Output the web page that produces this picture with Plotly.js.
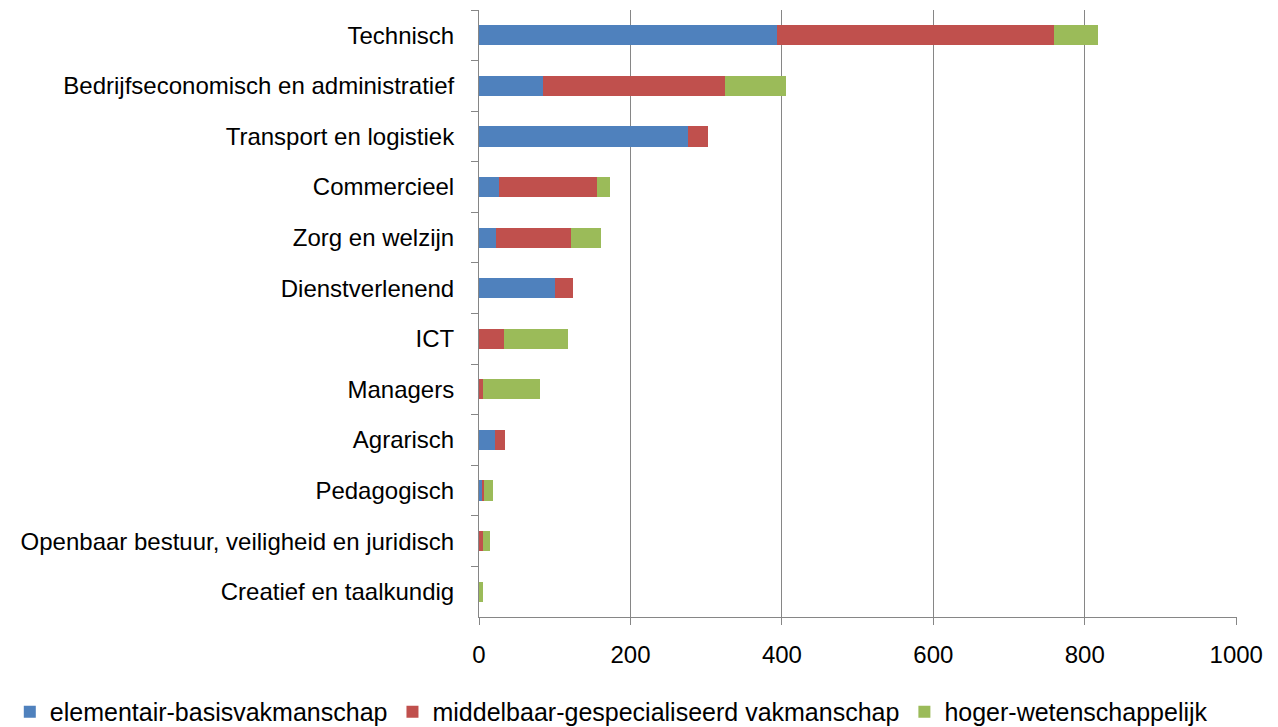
<!DOCTYPE html>
<html>
<head>
<meta charset="utf-8">
<script src="https://cdn.plot.ly/plotly-3.0.1.min.js"></script>
<style>html,body{margin:0;padding:0;background:#fff;}#chart{width:1278px;height:727px;}</style>
</head>
<body>
<div id="chart"></div>
<script>
const categories = [
  "Technisch",
  "Bedrijfseconomisch en administratief",
  "Transport en logistiek",
  "Commercieel",
  "Zorg en welzijn",
  "Dienstverlenend",
  "ICT",
  "Managers",
  "Agrarisch",
  "Pedagogisch",
  "Openbaar bestuur, veiligheid en juridisch",
  "Creatief en taalkundig"
];
const seriesNames = ["elementair-basisvakmanschap", "middelbaar-gespecialiseerd vakmanschap", "hoger-wetenschappelijk"];
const elementair = [393, 84, 276, 26, 23, 101, 0, 0, 21, 4, 0, 0];
const middelbaar = [366, 241, 27, 130, 98, 23, 33, 5, 13, 3, 5, 0];
const hoger = [58, 80, 0, 17, 40, 0, 85, 76, 0, 12, 10, 5];
const xTicks = [0, 200, 400, 600, 800, 1000];
const colors = ["#4F81BD", "#C0504D", "#9BBB59"];

const font = "Liberation Sans, Arial, sans-serif";
const allSeries = [elementair, middelbaar, hoger];
const traces = allSeries.map((vals, i) => ({
  type: "bar",
  orientation: "h",
  name: seriesNames[i],
  y: categories,
  x: vals,
  marker: {color: colors[i], line: {width: 0}},
  hoverinfo: "x+y+name"
}));

const layout = {
  width: 1278,
  height: 727,
  barmode: "stack",
  bargap: 0.6,
  margin: {l: 479, r: 41, t: 10, b: 110, pad: 0, autoexpand: false},
  paper_bgcolor: "#fff",
  plot_bgcolor: "#fff",
  font: {family: font, size: 24, color: "#000"},
  xaxis: {
    range: [0, 1001],
    tickvals: xTicks,
    ticktext: xTicks.map(String),
    showgrid: true,
    gridcolor: "#868686",
    gridwidth: 1,
    zeroline: false,
    showline: true,
    linecolor: "#868686",
    linewidth: 1,
    ticks: "outside",
    ticklen: 7,
    tickcolor: "#868686",
    ticklabelstandoff: 9,
    tickfont: {family: font, size: 24, color: "#000"},
    fixedrange: true
  },
  yaxis: {
    type: "category",
    autorange: "reversed",
    showgrid: false,
    zeroline: false,
    showline: true,
    linecolor: "#868686",
    linewidth: 1,
    ticks: "outside",
    tickson: "boundaries",
    ticklen: 7,
    tickcolor: "#868686",
    ticklabelstandoff: 19,
    tickfont: {family: font, size: 24, color: "#000"},
    fixedrange: true
  },
  showlegend: true,
  legend: {
    orientation: "h",
    xref: "paper",
    x: -0.619,
    xanchor: "left",
    yref: "paper",
    y: -0.1565,
    yanchor: "middle",
    font: {family: font, size: 25, color: "#000"},
    itemwidth: 30,
    traceorder: "normal",
    bgcolor: "rgba(0,0,0,0)"
  }
};

Plotly.newPlot("chart", traces, layout, {displayModeBar: false, staticPlot: true});
</script>
</body>
</html>
